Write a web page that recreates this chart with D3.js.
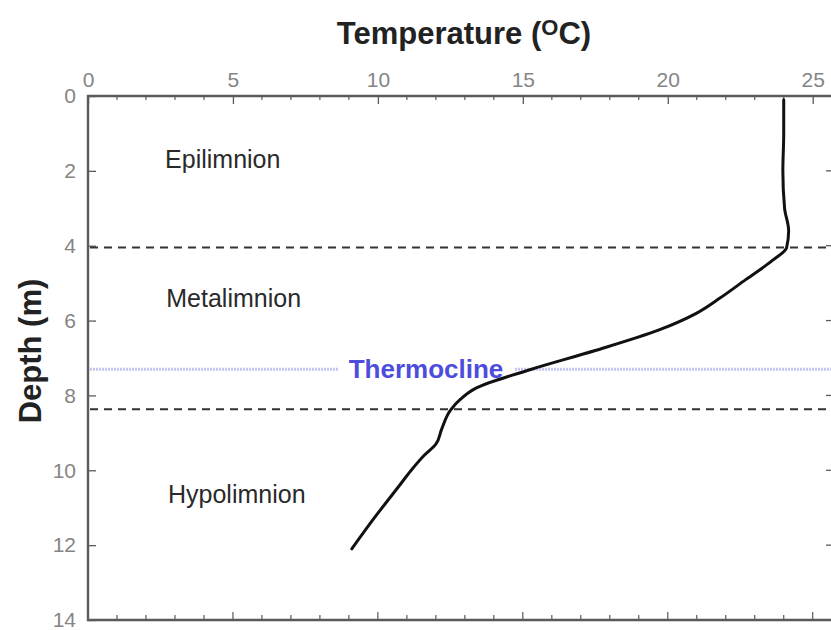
<!DOCTYPE html>
<html>
<head>
<meta charset="utf-8">
<script src="https://cdn.jsdelivr.net/npm/d3@7/dist/d3.min.js"></script>
<style>
  html, body { margin: 0; padding: 0; background: #fff; }
  svg { display: block; }
</style>
</head>
<body>
<svg id="chart" width="831" height="630"></svg>
<script>
// Temperature profile of a stratified lake
const depth = [0.1, 1, 2, 3, 3.6, 4.05, 4.4, 4.9, 5.4, 5.8, 6.25, 6.8, 7.3, 7.8, 8.1, 8.4, 8.9, 9.3, 9.6, 10.0, 10.4, 11.3, 12.1];
const temperature = [24.0, 24.0, 23.97, 24.03, 24.17, 24.1, 23.6, 22.7, 21.8, 21.0, 19.7, 17.5, 15.3, 13.4, 12.85, 12.5, 12.2, 12.0, 11.6, 11.15, 10.75, 9.85, 9.1];

const xTicks = [0, 5, 10, 15, 20, 25];
const yTicks = [0, 2, 4, 6, 8, 10, 12, 14];

// layer boundaries (depth, m)
const boundaries = [4.05, 8.37];
const thermoclineDepth = 7.3;

// layer names, placed by temperature (left edge) and depth (baseline)
const layers = [
  { name: "Epilimnion", depth: 1.93, temp: 2.66 },
  { name: "Metalimnion", depth: 5.63, temp: 2.7 },
  { name: "Hypolimnion", depth: 10.87, temp: 2.76 }
];

const svg = d3.select("#chart");
const plotL = 88, plotT = 96, plotR = 833, plotB = 620;

const x = d3.scaleLinear().domain([0, 25.7]).range([plotL, plotR]);
const y = d3.scaleLinear().domain([0, 14]).range([plotT, plotB]);

const axisColor = "#5a5a5a";
const tickFont = "'Liberation Sans Narrow', 'Arial Narrow', Arial, sans-serif";
const textFont = "Arial, 'Liberation Sans', sans-serif";

// Top axis: labelled majors every 5, minors every 1 (ticks point inward)
const minorX = d3.range(0, 26, 1);
const topAxis = svg.append("g").attr("transform", `translate(0,${plotT})`)
  .call(d3.axisTop(x).tickValues(xTicks).tickSize(-8).tickPadding(9).tickFormat(d3.format("d")));
topAxis.select(".domain").remove();
topAxis.selectAll(".tick line").attr("stroke", axisColor).attr("stroke-width", 1.3);
topAxis.selectAll("text").attr("font-family", tickFont).attr("font-size", 21).attr("fill", "#858585");
svg.append("g").selectAll("line").data(minorX.filter(d => d % 5 !== 0)).join("line")
  .attr("x1", d => x(d)).attr("x2", d => x(d))
  .attr("y1", plotT).attr("y2", plotT + 4)
  .attr("stroke", axisColor).attr("stroke-width", 1.2);

// Bottom axis: tick marks only
svg.append("g").selectAll("line").data(minorX).join("line")
  .attr("x1", d => x(d)).attr("x2", d => x(d))
  .attr("y1", plotB).attr("y2", d => plotB - (d % 5 === 0 ? 8 : 5))
  .attr("stroke", axisColor).attr("stroke-width", 1.2);

// Left axis
const leftAxis = svg.append("g").attr("transform", `translate(${plotL},0)`)
  .call(d3.axisLeft(y).tickValues(yTicks).tickSize(-8).tickPadding(12).tickFormat(d3.format("d")));
leftAxis.select(".domain").remove();
leftAxis.selectAll(".tick line").attr("stroke", axisColor).attr("stroke-width", 1.3);
leftAxis.selectAll("text").attr("font-family", tickFont).attr("font-size", 21).attr("fill", "#858585");

// Right axis ticks
svg.append("g").selectAll("line").data(yTicks).join("line")
  .attr("x1", plotR).attr("x2", plotR - 7)
  .attr("y1", d => y(d)).attr("y2", d => y(d))
  .attr("stroke", axisColor).attr("stroke-width", 1.3);

// Frame
svg.append("path")
  .attr("d", `M${plotR},${plotT}H${plotL}V${plotB}H${plotR}`)
  .attr("fill", "none").attr("stroke", axisColor).attr("stroke-width", 2.4);

// Layer boundaries
svg.append("g").selectAll("line").data(boundaries).join("line")
  .attr("x1", plotL + 2).attr("x2", plotR)
  .attr("y1", d => y(d)).attr("y2", d => y(d))
  .attr("stroke", "#333").attr("stroke-width", 2)
  .attr("stroke-dasharray", "8,6");

// Thermocline
const tY = y(thermoclineDepth);
const labelCx = 426;
svg.append("line")
  .attr("x1", plotL + 2).attr("x2", 338)
  .attr("y1", tY).attr("y2", tY)
  .attr("stroke", "#c4c4f2").attr("stroke-width", 3).attr("stroke-dasharray", "2,1");
svg.append("line")
  .attr("x1", 515).attr("x2", plotR)
  .attr("y1", tY).attr("y2", tY)
  .attr("stroke", "#c4c4f2").attr("stroke-width", 3).attr("stroke-dasharray", "2,1");
svg.append("text")
  .attr("x", labelCx).attr("y", tY + 9)
  .attr("text-anchor", "middle")
  .attr("font-family", textFont)
  .attr("font-weight", "bold").attr("font-size", 26)
  .attr("fill", "#4d4ddc")
  .text("Thermocline");

// Profile
const profile = depth.map((d, i) => ({ d, t: temperature[i] }));
svg.append("path")
  .datum(profile)
  .attr("fill", "none").attr("stroke", "#111").attr("stroke-width", 3)
  .attr("stroke-linecap", "round")
  .attr("d", d3.line().x(p => x(p.t)).y(p => y(p.d)).curve(d3.curveMonotoneY));

// Layer names
svg.append("g").selectAll("text").data(layers).join("text")
  .attr("x", d => x(d.temp)).attr("y", d => y(d.depth))
  .attr("font-family", textFont)
  .attr("font-size", 25).attr("fill", "#2a2a2a")
  .text(d => d.name);

// Axis titles
const title = svg.append("text")
  .attr("x", 464).attr("y", 44)
  .attr("text-anchor", "middle")
  .attr("font-family", textFont)
  .attr("font-weight", "bold").attr("font-size", 31).attr("fill", "#222");
title.append("tspan").text("Temperature (");
title.append("tspan").attr("font-size", 22).attr("dy", -9).text("O");
title.append("tspan").attr("dy", 9).text("C)");

svg.append("text")
  .attr("transform", `translate(41,351) rotate(-90)`)
  .attr("text-anchor", "middle")
  .attr("font-family", textFont)
  .attr("font-weight", "bold").attr("font-size", 31).attr("fill", "#222")
  .text("Depth (m)");
</script>
</body>
</html>
